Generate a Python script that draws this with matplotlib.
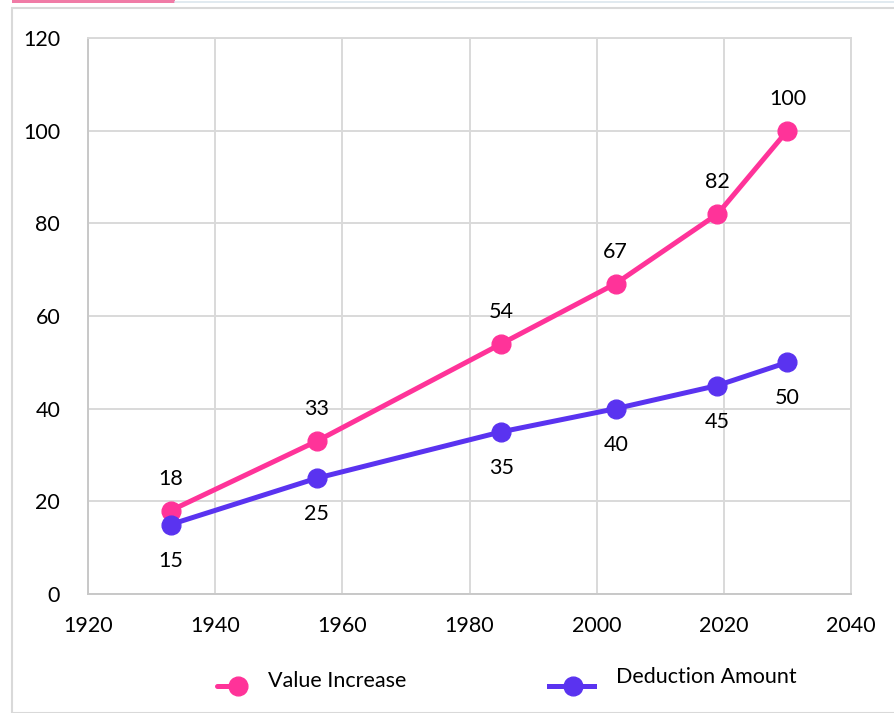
import matplotlib
matplotlib.use("Agg")
import matplotlib.pyplot as plt
from matplotlib.lines import Line2D
from matplotlib.patches import Rectangle

plt.rcParams['font.family'] = ['Lato', 'DejaVu Sans']

years = [1933, 1956, 1985, 2003, 2019, 2030]
value_increase = [18, 33, 54, 67, 82, 100]
deduction_amount = [15, 25, 35, 40, 45, 50]
x_ticks = [1920, 1940, 1960, 1980, 2000, 2020, 2040]
y_ticks = [0, 20, 40, 60, 80, 100, 120]

pink = '#FF3399'
purple = '#5A33F0'
grid_c = '#D9D9D9'
FS = 15.5
LW = 3.6
MS = 13.5

W, H = 895, 713
fig = plt.figure(figsize=(W / 100, H / 100), dpi=100)

def fx(px):
    return px / W

def fy(py):
    return 1 - py / H

# outer frame decorations
fig.patches.append(Rectangle((fx(12), 0), 1, fy(8), transform=fig.transFigure,
                             fill=False, edgecolor='#D9D9D9', linewidth=1.5))
fig.patches.append(Rectangle((fx(12), fy(3)), fx(163), 3 / H, transform=fig.transFigure,
                             facecolor='#F07BA6', edgecolor='none'))
fig.lines.append(Line2D([fx(175), 1], [fy(2), fy(2)], transform=fig.transFigure,
                        color='#DCE6EE', linewidth=1.2))

ax = fig.add_axes([fx(88), fy(594), fx(851) - fx(88), fy(38) - fy(594)])
ax.set_xlim(1920, 2040)
ax.set_ylim(0, 120)
ax.set_xticks(x_ticks)
ax.set_yticks(y_ticks)
ax.grid(True, color=grid_c, linewidth=1.4)
ax.set_axisbelow(True)
for s in ax.spines.values():
    s.set_color(grid_c)
    s.set_linewidth(1.4)
ax.spines['left'].set_color('#C8C8C8')
ax.spines['bottom'].set_color('#C8C8C8')
ax.tick_params(length=0, labelsize=FS, colors='black')
ax.tick_params(axis='y', pad=20)
ax.tick_params(axis='x', pad=16)

ax.plot(years, value_increase, color=pink, linewidth=LW, marker='o', markersize=MS,
        solid_capstyle='round', zorder=3)
ax.plot(years, deduction_amount, color=purple, linewidth=LW, marker='o', markersize=MS,
        solid_capstyle='round', zorder=3)

for x, v in zip(years, value_increase):
    ax.annotate(str(v), (x, v), xytext=(0, 23), textcoords='offset points',
                ha='center', va='center', fontsize=FS)
for x, v in zip(years, deduction_amount):
    ax.annotate(str(v), (x, v), xytext=(0, -26), textcoords='offset points',
                ha='center', va='center', fontsize=FS)

# legend
fig.lines.append(Line2D([fx(217), fx(238)], [fy(686), fy(686)], transform=fig.transFigure,
                        color=pink, linewidth=LW, solid_capstyle='round'))
fig.lines.append(Line2D([fx(238)], [fy(686)], transform=fig.transFigure,
                        color=pink, marker='o', markersize=MS, linestyle='none'))
fig.text(fx(268), fy(681), 'Value Increase', fontsize=FS, va='center', ha='left')
fig.lines.append(Line2D([fx(549), fx(594)], [fy(686), fy(686)], transform=fig.transFigure,
                        color=purple, linewidth=LW))
fig.lines.append(Line2D([fx(573)], [fy(686)], transform=fig.transFigure,
                        color=purple, marker='o', markersize=MS, linestyle='none'))
fig.text(fx(616), fy(677), 'Deduction Amount', fontsize=FS, va='center', ha='left')

fig.savefig('out.png', dpi=100)
